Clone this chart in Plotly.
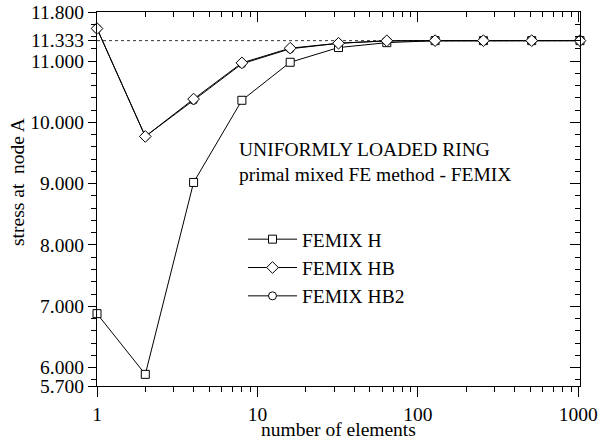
import numpy as np
import plotly.graph_objects as go

# ---- data ----
n_elements = [1, 2, 4, 8, 16, 32, 64, 128, 256, 512, 1024]
femix_h = [6.88, 5.89, 9.02, 10.36, 10.98, 11.22, 11.30, 11.333, 11.333, 11.333, 11.333]
femix_hb = [11.53, 9.77, 10.38, 10.97, 11.21, 11.29, 11.33, 11.333, 11.333, 11.333, 11.333]
femix_hb2 = [11.53, 9.77, 10.36, 10.955, 11.20, 11.29, 11.33, 11.333, 11.333, 11.333, 11.333]
exact_value = 11.333

y_tick_vals = [5.7, 6.0, 7.0, 8.0, 9.0, 10.0, 11.0, 11.333, 11.8]
y_tick_text = ["5.700", "6.000", "7.000", "8.000", "9.000", "10.000", "11.000", "11.333", "11.800"]
y_minor_vals = [5.8, 6.2, 6.4, 6.6, 6.8, 7.2, 7.4, 7.6, 7.8, 8.2, 8.4, 8.6, 8.8,
                9.2, 9.4, 9.6, 9.8, 10.2, 10.4, 10.6, 10.8, 11.2, 11.4, 11.6]
x_tick_vals = [1, 10, 100, 1000]
x_tick_text = ["1", "10", "100", "1000"]
x_minor_vals = [m * d for d in (1, 10, 100) for m in range(2, 10)]

FONT = "Liberation Serif"
FS = 19.5

fig = go.Figure()

mk = dict(color="white", line=dict(color="black", width=1))

fig.add_trace(go.Scatter(x=n_elements, y=femix_h, name="FEMIX H", mode="lines+markers",
                         line=dict(color="black", width=1),
                         marker=dict(symbol="square", size=8, **mk),
                         cliponaxis=False, legendrank=1))
fig.add_trace(go.Scatter(x=n_elements, y=femix_hb2, name="FEMIX HB2", mode="lines+markers",
                         line=dict(color="black", width=1),
                         marker=dict(symbol="circle", size=8, **mk),
                         cliponaxis=False, legendrank=3))
fig.add_trace(go.Scatter(x=n_elements, y=femix_hb, name="FEMIX HB", mode="lines+markers",
                         line=dict(color="black", width=1),
                         marker=dict(symbol="diamond", size=9, **mk),
                         cliponaxis=False, legendrank=2))
# helper trace to bind the top/right frame axes
fig.add_trace(go.Scatter(x=n_elements, y=femix_h, xaxis="x2", yaxis="y2", mode="none",
                         showlegend=False, hoverinfo="skip"))

fig.add_shape(type="line", xref="paper", x0=0, x1=1, yref="y", y0=exact_value, y1=exact_value,
              line=dict(color="black", width=0.8, dash="dot"), layer="below")

xr = [0, np.log10(1024)]
yr = [5.7, 11.8]
common = dict(showgrid=False, zeroline=False, showline=True, linecolor="black", linewidth=1.3,
              tickcolor="black", tickwidth=1.2, automargin=False)

fig.update_layout(
    width=598, height=439,
    margin=dict(l=97, r=18, t=12, b=53, autoexpand=False),
    paper_bgcolor="white", plot_bgcolor="white",
    font=dict(family=FONT, size=FS, color="black"),
    xaxis=dict(type="log", range=xr, tickmode="array", tickvals=x_tick_vals, ticktext=x_tick_text,
               ticks="outside", ticklen=10,
               minor=dict(tickmode="array", tickvals=x_minor_vals, ticks="outside", ticklen=5,
                          tickcolor="black", tickwidth=1.2),
               **common),
    xaxis2=dict(type="log", range=xr, overlaying="x", side="top", anchor="y",
                tickmode="array", tickvals=x_tick_vals, showticklabels=False,
                ticks="inside", ticklen=10,
                minor=dict(tickmode="array", tickvals=x_minor_vals, ticks="inside", ticklen=5,
                           tickcolor="black", tickwidth=1.2),
                **common),
    yaxis=dict(range=yr, tickmode="array", tickvals=y_tick_vals, ticktext=y_tick_text,
               ticks="outside", ticklen=8,
               minor=dict(tickmode="array", tickvals=y_minor_vals, ticks="outside", ticklen=5,
                          tickcolor="black", tickwidth=1.2),
               **common),
    yaxis2=dict(range=yr, overlaying="y", side="right", anchor="x",
                tickmode="array", tickvals=y_tick_vals, showticklabels=False,
                ticks="inside", ticklen=10,
                minor=dict(tickmode="array", tickvals=y_minor_vals, ticks="inside", ticklen=5,
                           tickcolor="black", tickwidth=1.2),
                **common),
    legend=dict(x=0.3023, y=0.4439, xanchor="left", yanchor="top", bgcolor="rgba(0,0,0,0)",
                font=dict(family=FONT, size=FS, color="black"), traceorder="normal",
                itemwidth=49),
    showlegend=True,
)

tf = dict(family=FONT, size=FS, color="black")
fig.add_annotation(text="stress at  node A", xref="paper", yref="paper", x=-0.1636, y=0.5455,
                   textangle=-90, showarrow=False, xanchor="center", yanchor="middle", font=tf)
fig.add_annotation(text="number of elements", xref="paper", yref="paper", x=0.5, y=-0.1150,
                   showarrow=False, xanchor="center", yanchor="middle", font=tf)
fig.add_annotation(text="UNIFORMLY LOADED RING", xref="paper", yref="paper", x=0.2899, y=0.633,
                   showarrow=False, xanchor="left", yanchor="middle", font=tf)
fig.add_annotation(text="primal mixed FE method - FEMIX", xref="paper", yref="paper", x=0.2899, y=0.566,
                   showarrow=False, xanchor="left", yanchor="middle", font=tf)

fig.write_html("out.html")
